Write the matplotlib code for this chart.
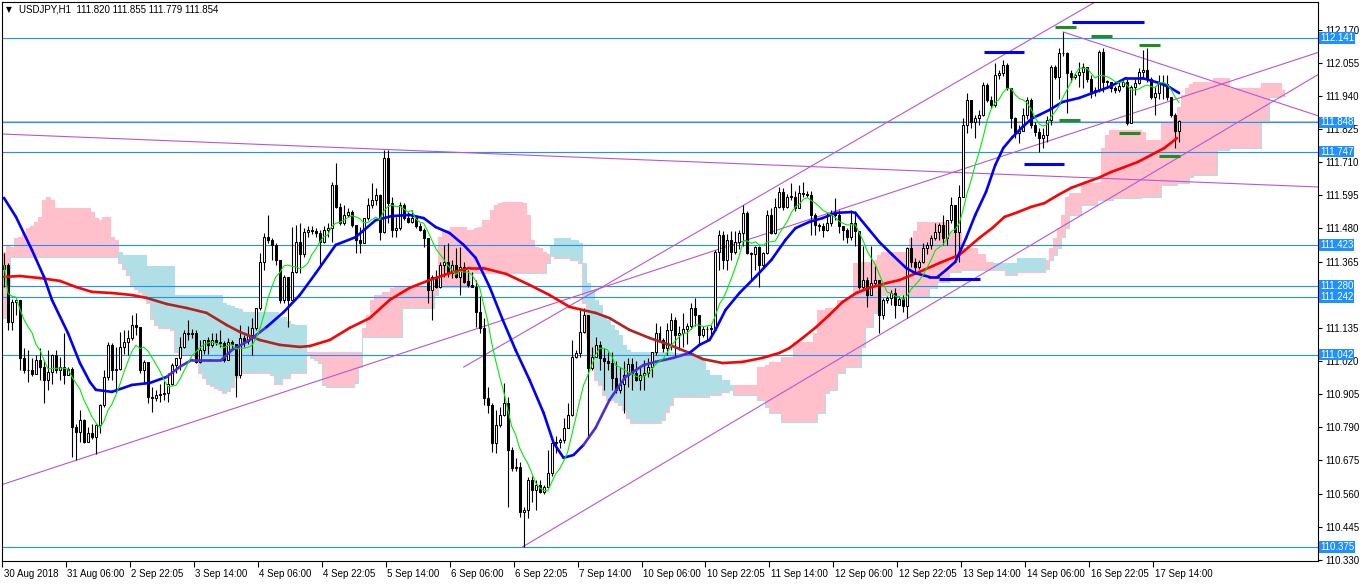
import numpy as np
import pandas as pd
import matplotlib
matplotlib.use("Agg")
import matplotlib.pyplot as plt
from matplotlib.collections import LineCollection
import matplotlib.transforms as mtransforms

plt.rcParams['font.family'] = ['Liberation Sans', 'DejaVu Sans']

# ---------------- data ----------------
first_open = 111.341
close = [
111.353, 111.156, 111.226, 111.232, 111.029, 110.989, 110.990, 110.975, 111.023, 111.000,
110.954, 110.983, 111.041, 110.989, 111.000, 110.971, 110.994, 110.792, 110.775, 110.815,
110.740, 110.769, 110.757, 110.798, 110.867, 110.966, 111.075, 110.989, 110.994, 111.070,
111.087, 111.099, 111.145, 111.139, 110.989, 111.017, 110.896, 110.890, 110.902, 110.905,
110.908, 110.942, 111.006, 111.029, 111.070, 111.116, 111.113, 111.119, 111.017, 111.058,
111.093, 111.075, 111.093, 111.085, 111.081, 111.023, 111.087, 111.078, 110.971, 111.099,
111.090, 111.110, 111.133, 111.203, 111.365, 111.451, 111.440, 111.423, 111.370, 111.232,
111.313, 111.232, 111.330, 111.434, 111.390, 111.469, 111.475, 111.470, 111.465, 111.434,
111.475, 111.481, 111.631, 111.556, 111.498, 111.527, 111.538, 111.492, 111.440, 111.430,
111.515, 111.562, 111.580, 111.596, 111.469, 111.724, 111.567, 111.475, 111.480, 111.562,
111.515, 111.504, 111.515, 111.490, 111.475, 111.446, 111.267, 111.313, 111.278, 111.353,
111.365, 111.324, 111.353, 111.313, 111.348, 111.296, 111.284, 111.278, 111.191, 111.134,
110.891, 110.867, 110.734, 110.798, 110.833, 110.873, 110.711, 110.648, 110.653, 110.497,
110.503, 110.607, 110.572, 110.590, 110.567, 110.584, 110.630, 110.734, 110.740, 110.745,
110.787, 110.833, 111.035, 111.047, 111.122, 111.180, 110.995, 111.035, 111.076, 111.030,
111.020, 111.012, 110.960, 110.920, 110.940, 110.970, 111.010, 110.980, 110.955, 110.972,
110.980, 111.000, 111.052, 111.116, 111.093, 111.065, 111.128, 111.163, 111.110, 111.116,
111.130, 111.140, 111.203, 111.180, 111.110, 111.130, 111.130, 111.134, 111.400, 111.458,
111.371, 111.440, 111.400, 111.434, 111.463, 111.533, 111.394, 111.390, 111.417, 111.352,
111.394, 111.527, 111.463, 111.556, 111.608, 111.556, 111.590, 111.590, 111.550, 111.602,
111.600, 111.597, 111.527, 111.492, 111.490, 111.475, 111.500, 111.533, 111.527, 111.487,
111.475, 111.450, 111.498, 111.470, 111.278, 111.300, 111.250, 111.290, 111.300, 111.180,
111.232, 111.238, 111.255, 111.215, 111.235, 111.210, 111.411, 111.365, 111.347, 111.365,
111.411, 111.423, 111.446, 111.469, 111.492, 111.446, 111.510, 111.562, 111.469, 111.590,
111.839, 111.926, 111.851, 111.862, 111.874, 111.978, 111.926, 111.909, 112.013, 112.018,
112.047, 111.966, 111.862, 111.810, 111.820, 111.874, 111.926, 111.840, 111.816, 111.793,
111.804, 111.856, 112.042, 112.007, 112.088, 112.090, 112.018, 112.007, 112.013, 112.024,
112.042, 112.000, 111.955, 111.960, 112.094, 111.990, 111.990, 111.966, 111.960, 111.975,
111.990, 111.845, 111.972, 111.985, 112.024, 112.030, 112.000, 111.938, 111.950, 111.985,
111.980, 111.938, 111.874, 111.820, 111.854]

high = [
111.394, 111.360, 111.237, 111.237, 111.232, 111.064, 111.058, 111.030, 111.041, 111.064,
111.023, 111.058, 111.046, 111.058, 111.035, 111.116, 111.000, 111.000, 110.800, 110.850,
110.820, 110.792, 110.800, 110.800, 110.870, 110.990, 111.087, 111.081, 111.070, 111.122,
111.127, 111.127, 111.180, 111.185, 111.139, 111.023, 111.017, 110.931, 110.920, 110.942,
110.950, 110.977, 111.012, 111.030, 111.104, 111.127, 111.162, 111.130, 111.127, 111.093,
111.093, 111.104, 111.116, 111.116, 111.127, 111.090, 111.099, 111.093, 111.070, 111.145,
111.110, 111.140, 111.168, 111.203, 111.394, 111.463, 111.527, 111.446, 111.430, 111.370,
111.318, 111.313, 111.486, 111.492, 111.498, 111.480, 111.490, 111.490, 111.480, 111.475,
111.490, 111.500, 111.643, 111.706, 111.567, 111.562, 111.550, 111.545, 111.490, 111.486,
111.515, 111.585, 111.637, 111.620, 111.600, 111.753, 111.753, 111.590, 111.520, 111.573,
111.567, 111.538, 111.544, 111.520, 111.500, 111.480, 111.420, 111.320, 111.336, 111.365,
111.423, 111.429, 111.371, 111.411, 111.417, 111.365, 111.336, 111.330, 111.300, 111.244,
111.168, 110.930, 110.873, 110.850, 110.862, 110.943, 110.896, 110.720, 110.682, 110.671,
110.515, 110.619, 110.620, 110.607, 110.607, 110.590, 110.711, 110.734, 110.760, 110.752,
110.821, 110.873, 111.093, 111.060, 111.197, 111.203, 111.180, 111.070, 111.105, 111.088,
111.064, 111.050, 111.050, 111.020, 111.000, 111.020, 111.030, 111.030, 111.020, 111.000,
111.024, 111.030, 111.052, 111.151, 111.140, 111.100, 111.151, 111.186, 111.174, 111.140,
111.186, 111.151, 111.220, 111.238, 111.180, 111.140, 111.140, 111.145, 111.406, 111.475,
111.470, 111.460, 111.470, 111.470, 111.475, 111.562, 111.540, 111.400, 111.420, 111.420,
111.400, 111.544, 111.550, 111.585, 111.625, 111.620, 111.600, 111.637, 111.610, 111.630,
111.643, 111.610, 111.610, 111.533, 111.500, 111.500, 111.533, 111.544, 111.585, 111.544,
111.490, 111.480, 111.544, 111.540, 111.470, 111.420, 111.310, 111.420, 111.350, 111.300,
111.240, 111.245, 111.265, 111.272, 111.245, 111.250, 111.415, 111.452, 111.376, 111.370,
111.430, 111.434, 111.457, 111.500, 111.500, 111.527, 111.510, 111.590, 111.562, 111.631,
111.862, 111.949, 111.926, 111.874, 111.890, 111.990, 111.985, 111.940, 112.053, 112.030,
112.065, 112.053, 111.966, 111.866, 111.840, 111.897, 111.938, 111.932, 111.850, 111.830,
111.828, 111.870, 112.047, 112.047, 112.105, 112.163, 112.094, 112.030, 112.020, 112.059,
112.053, 112.036, 112.013, 111.970, 112.100, 112.105, 111.995, 111.980, 111.975, 111.990,
112.000, 112.000, 111.978, 112.000, 112.036, 112.100, 112.105, 112.007, 111.975, 112.013,
112.013, 112.013, 111.938, 111.880, 111.855]

low = [
111.278, 111.127, 111.127, 111.180, 110.989, 110.977, 110.948, 110.968, 110.989, 110.954,
110.873, 110.919, 110.940, 110.977, 110.954, 110.942, 110.970, 110.688, 110.676, 110.740,
110.734, 110.746, 110.750, 110.699, 110.770, 110.860, 110.954, 110.954, 110.908, 110.989,
111.046, 111.040, 111.093, 111.110, 110.977, 110.942, 110.873, 110.844, 110.880, 110.879,
110.885, 110.879, 110.937, 110.977, 110.990, 111.064, 111.093, 111.100, 111.012, 111.012,
111.046, 111.046, 111.070, 111.075, 111.070, 111.017, 111.023, 111.064, 110.896, 110.960,
111.070, 111.080, 111.040, 111.127, 111.197, 111.336, 111.430, 111.370, 111.353, 111.220,
111.220, 111.139, 111.260, 111.324, 111.324, 111.380, 111.450, 111.460, 111.450, 111.348,
111.430, 111.450, 111.434, 111.550, 111.492, 111.492, 111.520, 111.486, 111.394, 111.394,
111.430, 111.510, 111.550, 111.560, 111.440, 111.463, 111.500, 111.450, 111.452, 111.475,
111.510, 111.498, 111.500, 111.480, 111.470, 111.417, 111.220, 111.162, 111.272, 111.272,
111.313, 111.313, 111.307, 111.307, 111.249, 111.290, 111.278, 111.278, 111.139, 111.116,
110.867, 110.839, 110.705, 110.700, 110.790, 110.830, 110.515, 110.640, 110.640, 110.480,
110.376, 110.474, 110.532, 110.503, 110.561, 110.560, 110.584, 110.620, 110.700, 110.717,
110.734, 110.787, 110.830, 111.030, 111.035, 111.116, 110.752, 110.990, 111.040, 110.990,
110.920, 110.990, 110.920, 110.908, 110.910, 110.840, 110.930, 110.920, 110.950, 110.920,
110.920, 110.966, 110.966, 111.040, 111.088, 111.050, 111.040, 111.060, 111.035, 111.058,
111.070, 111.080, 111.130, 111.140, 111.080, 111.105, 111.090, 111.100, 111.134, 111.336,
111.340, 111.336, 111.370, 111.390, 111.410, 111.420, 111.390, 111.300, 111.336, 111.278,
111.345, 111.390, 111.460, 111.460, 111.550, 111.544, 111.550, 111.580, 111.540, 111.550,
111.590, 111.590, 111.458, 111.458, 111.470, 111.452, 111.470, 111.490, 111.510, 111.463,
111.440, 111.430, 111.440, 111.420, 111.270, 111.270, 111.209, 111.250, 111.280, 111.116,
111.165, 111.220, 111.215, 111.168, 111.215, 111.190, 111.168, 111.347, 111.330, 111.340,
111.360, 111.390, 111.410, 111.440, 111.440, 111.423, 111.423, 111.500, 111.376, 111.365,
111.590, 111.810, 111.828, 111.793, 111.840, 111.870, 111.920, 111.897, 111.900, 112.000,
112.010, 111.960, 111.828, 111.793, 111.776, 111.820, 111.860, 111.828, 111.800, 111.747,
111.758, 111.781, 111.840, 112.000, 111.930, 112.080, 111.880, 111.990, 112.000, 111.972,
111.966, 111.990, 111.932, 111.940, 111.955, 111.955, 111.972, 111.955, 111.950, 111.955,
111.970, 111.839, 111.850, 111.943, 111.980, 112.000, 111.990, 111.930, 111.874, 111.930,
111.930, 111.926, 111.868, 111.758, 111.779]

# slow MA (blue) read at bar positions
blue_x = [0, 3, 7, 10, 12, 16, 19, 21.5, 23, 27, 32, 36.5, 40.7, 44, 47, 51.5, 54.4, 57, 61.5, 65.7,
          70, 74, 78, 83, 88, 93, 97, 101.5, 105, 108, 111.5, 115, 118, 121.5, 124.8, 128, 131.5, 135, 137.5, 140,
          142.5, 145, 148, 151.5, 155.5, 160, 163, 167.5, 171.5, 174, 176.5, 178, 180.5, 184, 188, 192, 195.5, 198, 201.5, 204.8,
          208, 212, 213, 216.5, 219, 222.3, 225.7, 228, 231.5, 233.6, 235.7, 238, 240.7, 243, 245.7, 248, 250, 252.3, 254.8, 257.3,
          259, 261.5, 264.8, 269, 272.3, 276.5, 280.7, 284.8, 289, 291.5, 294]
blue_y = [111.586, 111.520, 111.405, 111.312, 111.232, 111.117, 111.013, 110.947, 110.920, 110.913, 110.937, 110.944, 110.965, 111.000, 111.024, 111.024, 111.024, 111.058, 111.093, 111.138,
          111.190, 111.249, 111.325, 111.423, 111.450, 111.509, 111.523, 111.527, 111.516, 111.485, 111.464, 111.423, 111.378, 111.277, 111.162, 111.058, 110.954, 110.840, 110.736, 110.684,
          110.694, 110.729, 110.788, 110.885, 110.965, 111.006, 111.017, 111.031, 111.048, 111.076, 111.093, 111.128, 111.197, 111.256, 111.312, 111.371, 111.440, 111.481, 111.503, 111.516,
          111.534, 111.537, 111.534, 111.475, 111.433, 111.388, 111.343, 111.325, 111.312, 111.312, 111.336, 111.364, 111.447, 111.527, 111.607, 111.700, 111.759, 111.797, 111.832, 111.863,
          111.874, 111.891, 111.919, 111.933, 111.950, 111.971, 112.002, 112.002, 111.985, 111.971, 111.950]
blue_alt_ranges = [(42, 64), (146, 172)]

# long MA (red)
red_x = [0, 4, 9, 14, 18, 22, 27, 32, 35.7, 40.7, 45.7, 50.7, 55.7, 59, 64, 69, 74, 76.5, 81.5, 86.5,
         91.5, 96.5, 101.5, 106.5, 111.5, 116.5, 119.8, 125.7, 131.5, 136.5, 141.5, 144.8, 148, 151.5, 156.5, 161.5, 166.5, 171.5, 174.8, 179.8,
         184.8, 189.8, 194, 196.5, 199.8, 203.2, 206.5, 209.8, 213.2, 216.5, 221, 224, 229, 234, 239, 244, 247.3, 250.3, 253.7, 257,
         260.3, 263.7, 267, 270.3, 273.7, 277, 280.3, 283.7, 287, 290.3, 293.5]
red_y = [111.312, 111.315, 111.308, 111.298, 111.277, 111.260, 111.256, 111.249, 111.239, 111.218, 111.204, 111.187, 111.145, 111.121, 111.093, 111.076, 111.069, 111.072, 111.093, 111.135,
         111.169, 111.232, 111.274, 111.301, 111.325, 111.343, 111.343, 111.322, 111.284, 111.249, 111.208, 111.197, 111.187, 111.169, 111.128, 111.100, 111.076, 111.048, 111.027, 111.013,
         111.017, 111.031, 111.048, 111.065, 111.100, 111.138, 111.180, 111.225, 111.256, 111.274, 111.291, 111.301, 111.329, 111.360, 111.388, 111.447, 111.482, 111.520, 111.537, 111.555,
         111.568, 111.596, 111.621, 111.638, 111.655, 111.676, 111.693, 111.711, 111.735, 111.759, 111.794]
red_dark_ranges = [(36, 76), (146, 178)]

# Ichimoku cloud breakpoints (bar where value starts, span A, span B)
cloud_bar = [0, 1, 2, 3, 4, 5, 6, 7, 8, 9, 10, 11, 12, 13, 22, 23, 24, 25, 27, 28,
             29, 30, 31, 32, 33, 34, 35, 36, 37, 38, 39, 42, 43, 44, 48, 49, 50, 51, 52, 53,
             54, 55, 56, 57, 58, 59, 60, 67, 68, 69, 70, 71, 72, 73, 76, 77, 78, 79, 80, 81,
             88, 89, 90, 91, 92, 93, 95, 97, 98, 100, 108, 109, 110, 112, 116, 117, 118, 119, 120, 122,
             123, 124, 125, 130, 131, 132, 133, 134, 135, 136, 137, 138, 142, 144, 145, 146, 147, 148, 149, 150,
             151, 152, 153, 154, 155, 156, 157, 165, 166, 167, 168, 173, 175, 176, 177, 180, 182, 183, 189, 191,
             192, 195, 198, 203, 204, 206, 207, 209, 211, 213, 215, 216, 218, 219, 220, 227, 228, 229, 232, 234,
             237, 240, 244, 246, 248, 251, 254, 261, 262, 263, 264, 265, 266, 267, 270, 274, 275, 276, 277, 278,
             285, 286, 290, 293, 294, 295, 296, 297, 298, 303, 304, 307, 315, 317, 320]
span_a = [111.400, 111.420, 111.416, 111.447, 111.450, 111.464, 111.482, 111.489, 111.503, 111.520, 111.579, 111.590, 111.579, 111.551, 111.537, 111.516, 111.510, 111.520, 111.450, 111.440,
          111.359, 111.340, 111.320, 111.280, 111.270, 111.261, 111.243, 111.220, 111.165, 111.145, 111.133, 111.128, 111.052, 111.045, 111.035, 110.977, 110.960, 110.942, 110.935, 110.925,
          110.920, 110.908, 110.915, 110.930, 110.966, 110.977, 110.977, 110.970, 110.940, 110.940, 110.960, 110.960, 110.977, 110.977, 111.051, 111.051, 111.051, 111.051, 111.051, 111.051,
          111.051, 111.051, 111.135, 111.180, 111.232, 111.249, 111.260, 111.273, 111.277, 111.277, 111.290, 111.451, 111.475, 111.485, 111.475, 111.475, 111.480, 111.485, 111.510, 111.544,
          111.562, 111.568, 111.573, 111.568, 111.527, 111.440, 111.417, 111.412, 111.400, 111.390, 111.385, 111.378, 111.370, 111.360, 111.220, 111.100, 111.006, 110.954, 110.937, 110.902,
          110.885, 110.885, 110.878, 110.868, 110.850, 110.822, 110.805, 110.815, 110.843, 110.868, 110.895, 110.895, 110.895, 110.895, 110.902, 110.913, 110.920, 110.937, 110.999, 111.005,
          111.017, 111.034, 111.086, 111.117, 111.197, 111.204, 111.204, 111.232, 111.243, 111.360, 111.364, 111.364, 111.371, 111.388, 111.398, 111.447, 111.470, 111.503, 111.503, 111.503,
          111.468, 111.412, 111.390, 111.364, 111.336, 111.318, 111.330, 111.370, 111.412, 111.447, 111.482, 111.527, 111.590, 111.603, 111.638, 111.641, 111.759, 111.804, 111.822, 111.822,
          111.816, 111.787, 111.850, 111.874, 111.900, 111.943, 111.967, 111.981, 111.988, 112.002, 112.002, 111.967, 111.985, 111.985, 111.960]
span_b = [111.170, 111.280, 111.381, 111.382, 111.382, 111.382, 111.382, 111.382, 111.382, 111.382, 111.382, 111.382, 111.382, 111.382, 111.382, 111.382, 111.382, 111.382, 111.382, 111.382,
          111.399, 111.388, 111.388, 111.388, 111.388, 111.388, 111.388, 111.350, 111.350, 111.350, 111.350, 111.350, 111.249, 111.249, 111.249, 111.249, 111.249, 111.249, 111.249, 111.249,
          111.249, 111.220, 111.215, 111.210, 111.205, 111.200, 111.191, 111.191, 111.191, 111.170, 111.174, 111.160, 111.150, 111.145, 111.045, 111.030, 111.024, 111.013, 110.937, 110.930,
          110.944, 111.000, 111.104, 111.104, 111.104, 111.104, 111.104, 111.104, 111.104, 111.204, 111.250, 111.277, 111.277, 111.277, 111.277, 111.325, 111.325, 111.325, 111.325, 111.325,
          111.325, 111.325, 111.325, 111.325, 111.325, 111.325, 111.325, 111.325, 111.325, 111.360, 111.420, 111.447, 111.440, 111.430, 111.360, 111.290, 111.267, 111.232, 111.215, 111.180,
          111.163, 111.145, 111.128, 111.110, 111.076, 111.058, 111.051, 111.051, 111.051, 111.051, 111.048, 111.041, 111.024, 110.989, 110.972, 110.954, 110.937, 110.902, 110.885, 110.861,
          110.840, 110.809, 110.809, 110.809, 110.840, 110.909, 110.920, 110.979, 111.000, 111.000, 111.070, 111.138, 111.186, 111.200, 111.249, 111.242, 111.242, 111.242, 111.274, 111.294,
          111.329, 111.336, 111.336, 111.336, 111.360, 111.360, 111.376, 111.340, 111.371, 111.388, 111.412, 111.450, 111.482, 111.527, 111.562, 111.579, 111.579, 111.579, 111.579, 111.585,
          111.590, 111.590, 111.631, 111.631, 111.638, 111.638, 111.638, 111.659, 111.666, 111.666, 111.752, 111.759, 111.856, 111.936, 111.940]
cloud_end = 321

# horizontal levels
levels = [112.141, 111.848, 111.747, 111.423, 111.280, 111.242, 111.042, 110.375]
bid = 111.854
yticks = [112.170, 112.055, 111.940, 111.825, 111.710, 111.595, 111.480, 111.365, 111.250,
          111.135, 111.020, 110.905, 110.790, 110.675, 110.560, 110.445, 110.330]
hidden_ticks = [111.250]   # covered by the level labels in the reference

# x labels every 16 bars
xlabels = ["30 Aug 2018", "31 Aug 06:00", "2 Sep 22:05", "3 Sep 14:00", "4 Sep 06:00", "4 Sep 22:05",
           "5 Sep 14:00", "6 Sep 06:00", "6 Sep 22:05", "7 Sep 14:00", "10 Sep 06:00", "10 Sep 22:05",
           "11 Sep 14:00", "12 Sep 06:00", "12 Sep 22:05", "13 Sep 14:00", "14 Sep 06:00", "16 Sep 22:05",
           "17 Sep 14:00"]

# trend lines: (bar1, price1, bar2, price2)
full_lines = [(-0.75, 110.590, 329.0, 112.092),
              (-0.75, 111.808, 328.75, 111.624)]
ray_lines = [(129.75, 110.375, 329.0, 112.016),
             (115.0, 110.999, 272.5, 112.262),
             (265.0, 112.162, 329.0, 111.870)]

# fractal levels: (bar start, bar end, price)
blue_marks = [(245.1, 255.25, 112.093), (267.2, 285.25, 112.195), (255.1, 265.25, 111.704), (234.0, 244.25, 111.305)]
green_marks = [(263.0, 268.25, 112.179), (272.0, 277.25, 112.149), (284.0, 289.25, 112.117),
               (264.0, 269.25, 111.856), (279.0, 284.25, 111.812), (289.0, 294.25, 111.732)]

# ---------------- figure ----------------
W, H = 1362, 584
fig = plt.figure(figsize=(W / 100, H / 100), dpi=100)
ax = fig.add_axes([2 / W, (H - 561) / H, 1316 / W, 559 / H])
ax.set_xlim(-0.25, 328.75)
ax.set_ylim(110.326, 112.266)

n = min(len(close), len(high), len(low))
c = np.array(close[:n])
o = np.concatenate([[first_open], c[:-1]])
h = np.maximum(np.array(high[:n]), np.maximum(o, c))
l = np.minimum(np.array(low[:n]), np.minimum(o, c))
xb = np.arange(n)

# cloud: one block per breakpoint segment
m = min(len(cloud_bar), len(span_a), len(span_b))
cx = np.array(cloud_bar[:m] + [cloud_end], dtype=float) - 0.5
ca = np.array(span_a[:m])
cb = np.array(span_b[:m])
widths = np.diff(cx)
bull = ca >= cb
lo = np.minimum(ca, cb)
hi = np.maximum(ca, cb)
ax.bar(cx[:-1][bull], (hi - lo)[bull], bottom=lo[bull], width=widths[bull], align='edge',
       color='#FFC0CB', lw=0, zorder=1)
ax.bar(cx[:-1][~bull], (hi - lo)[~bull], bottom=lo[~bull], width=widths[~bull], align='edge',
       color='#B0E0E6', lw=0, zorder=1)
ax.step(cx, np.append(ca, ca[-1]), where='post', color='#FFC0CB', lw=0.8, zorder=1.1)
ax.step(cx, np.append(cb, cb[-1]), where='post', color='#B0E0E6', lw=0.8, zorder=1.1)

# horizontal levels
for lv in levels:
    ax.axhline(lv, color='#1E90FF', lw=0.8, zorder=2)
ax.axhline(bid, color='#C0C0C0', lw=0.8, zorder=2)

# trend lines
purple = '#BA55D3'
for (x1, y1, x2, y2) in full_lines:
    ax.axline((x1, y1), (x2, y2), color=purple, lw=0.8, zorder=2.2)
for (x1, y1, x2, y2) in ray_lines:
    s = (y2 - y1) / (x2 - x1)
    ax.plot([x1, 400], [y1, y1 + s * (400 - x1)], color=purple, lw=0.8, zorder=2.2)

# candles
up = c >= o
body_lo = np.minimum(o, c)
body_h = np.maximum(np.abs(c - o), 0.0012)
ax.vlines(xb, l, h, color='black', lw=0.8, zorder=3)
ax.bar(xb[up], body_h[up], bottom=body_lo[up], width=0.5, color='white',
       edgecolor='black', linewidth=0.75, zorder=3.1)
ax.bar(xb[~up], body_h[~up], bottom=body_lo[~up], width=0.5, color='black',
       edgecolor='black', linewidth=0.75, zorder=3.1)

# moving averages
def colored_line(xs, ys, base, alt, ranges, lw, z):
    xs = np.asarray(xs, float)
    ys = np.asarray(ys, float)
    k = min(len(xs), len(ys))
    xs, ys = xs[:k], ys[:k]
    segs = [[(xs[i], ys[i]), (xs[i + 1], ys[i + 1])] for i in range(k - 1)]
    cols = []
    for i in range(k - 1):
        mid = 0.5 * (xs[i] + xs[i + 1])
        cols.append(alt if any(a <= mid <= b for a, b in ranges) else base)
    lc = LineCollection(segs, colors=cols, linewidths=lw, zorder=z, capstyle='round')
    ax.add_collection(lc)

colored_line(red_x, red_y, '#FF0000', '#B22222', red_dark_ranges, 1.9, 4)
colored_line(blue_x, blue_y, '#0000FF', '#4B2BE0', blue_alt_ranges, 1.9, 4.1)
green = pd.Series(c).rolling(8, min_periods=1).mean().values
ax.plot(xb, green, color='#00EE00', lw=0.8, zorder=4.2)

# fractal marks
for (a, b, p) in blue_marks:
    ax.plot([a, b], [p, p], color='#0000FF', lw=2.2, solid_capstyle='butt', zorder=5)
for (a, b, p) in green_marks:
    ax.plot([a, b], [p, p], color='#228B22', lw=2.2, solid_capstyle='butt', zorder=5)

# axes styling
for sp in ax.spines.values():
    sp.set_color('black')
    sp.set_linewidth(0.8)
ax.yaxis.tick_right()
ax.set_yticks(yticks)
ax.set_yticklabels(["" if v in hidden_ticks else f"{v:.3f}" for v in yticks])
ax.tick_params(axis='y', direction='out', length=3, width=0.8, pad=2, labelsize=7, colors='black')
ax.set_xticks([16 * k - 0.5 for k in range(len(xlabels))])
ax.set_xticklabels(xlabels)
ax.tick_params(axis='x', direction='out', length=4, width=0.8, pad=1.5, labelsize=7, colors='black')
offset = mtransforms.ScaledTranslation(1.5 / 100, 0, fig.dpi_scale_trans)
for lab in ax.get_xticklabels():
    lab.set_horizontalalignment('left')
    lab.set_transform(lab.get_transform() + offset)

# highlighted price labels
for lv in levels:
    ax.text(1.0015, lv, f"{lv:.3f}", transform=ax.get_yaxis_transform(), va='center', ha='left',
            color='white', fontsize=7, zorder=10, clip_on=False,
            bbox=dict(boxstyle='square,pad=0.08', fc='#1E90FF', ec='none'))

# title
fig.text(6 / W, 1 - 10 / H, "\u25BC", fontsize=5.5, va='center', ha='left', color='black',
         family='DejaVu Sans')
fig.text(19 / W, 1 - 10 / H, "USDJPY,H1  111.820 111.855 111.779 111.854", fontsize=7,
         va='center', ha='left', color='black')

fig.savefig("out.png", dpi=100, facecolor='white')
